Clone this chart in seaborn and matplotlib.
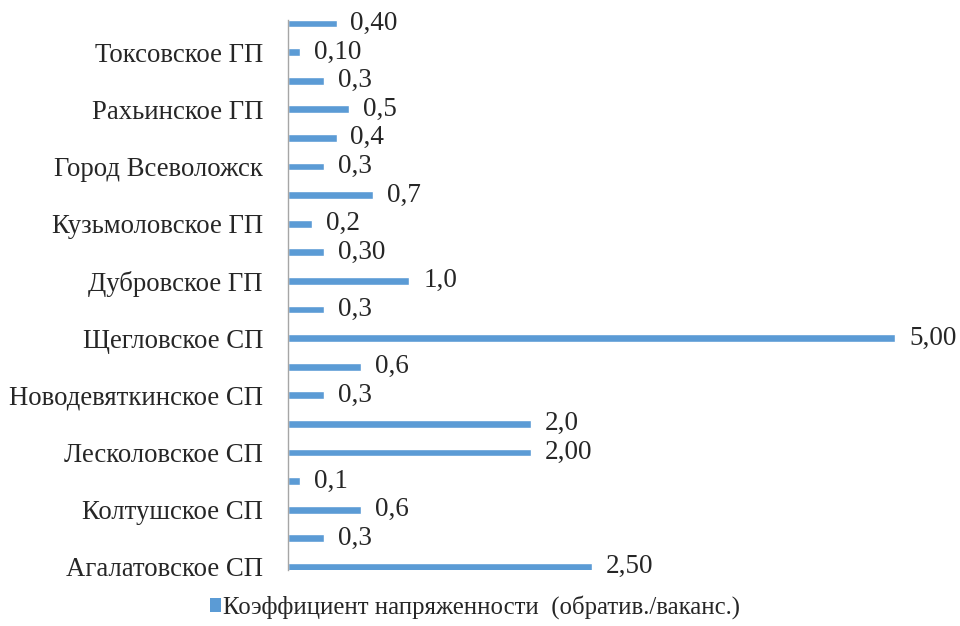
import pandas as pd
import seaborn as sns
import matplotlib.pyplot as plt
from matplotlib.patches import Patch

# top-to-bottom order, every other category is labelled on the axis
tick_labels = ['', 'Токсовское ГП', '', 'Рахьинское ГП', '', 'Город Всеволожск',
               '', 'Кузьмоловское ГП', '', 'Дубровское ГП', '', 'Щегловское СП',
               '', 'Новодевяткинское СП', '', 'Лесколовское СП', '', 'Колтушское СП',
               '', 'Агалатовское СП']
values = [0.40, 0.10, 0.3, 0.5, 0.4, 0.3, 0.7, 0.2, 0.30, 1.0,
          0.3, 5.00, 0.6, 0.3, 2.0, 2.00, 0.1, 0.6, 0.3, 2.50]
value_text = ['0,40', '0,10', '0,3', '0,5', '0,4', '0,3', '0,7', '0,2', '0,30', '1,0',
              '0,3', '5,00', '0,6', '0,3', '2,0', '2,00', '0,1', '0,6', '0,3', '2,50']
series_name = 'Коэффициент напряженности  (обратив./ваканс.)'

sns.set_style('white')
plt.rcParams['font.family'] = ['Liberation Serif', 'DejaVu Serif']
plt.rcParams['font.size'] = 19

bar_color = '#5B9BD5'
df = pd.DataFrame({'slot': range(len(values)), 'value': values})

fig = plt.figure(figsize=(9.6, 6.26), dpi=100)
ax = fig.add_axes([0.3, 0.089, 0.658, 0.879])
sns.barplot(data=df, x='value', y='slot', orient='h', color=bar_color,
            saturation=1, width=0.27, ax=ax)

ax.bar_label(ax.containers[0], labels=value_text, padding=10, fontsize=19.5)

ax.set_xlim(0, 5.2)
ax.set_ylim(19.12, -0.12)
ax.set_xlabel('')
ax.set_ylabel('')
ax.set_xticks([])
ax.set_yticks(range(len(values)))
ax.set_yticklabels(tick_labels)
ax.tick_params(axis='y', direction='in', length=7, width=1, color='#A6A6A6',
               pad=18, labelsize=19.3)

for side in ['top', 'right', 'bottom']:
    ax.spines[side].set_visible(False)
ax.spines['left'].set_color('#A6A6A6')
ax.spines['left'].set_linewidth(1)

handles = [Patch(facecolor=bar_color, edgecolor='none', label=series_name)]
fig.legend(handles=handles, loc='center', bbox_to_anchor=(0.495, 0.03),
           frameon=False, handlelength=0.45, handleheight=0.45,
           handletextpad=0.1, fontsize=17.8)

fig.savefig('out.png', dpi=100)
